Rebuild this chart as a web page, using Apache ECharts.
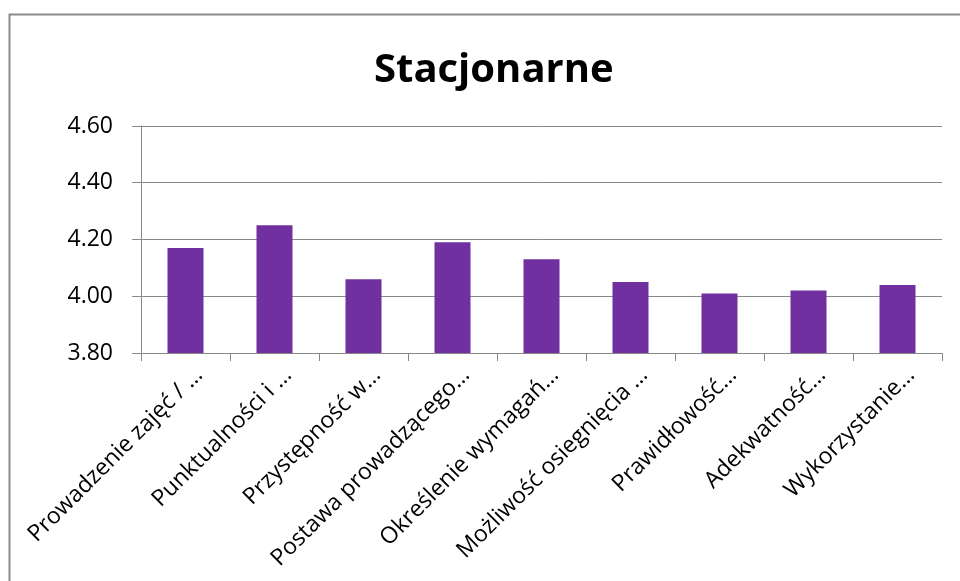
<!DOCTYPE html>
<html>
<head>
<meta charset="utf-8">
<script src="https://cdn.jsdelivr.net/npm/echarts@6/dist/echarts.min.js"></script>
<style>
  html, body { margin: 0; padding: 0; background: #fff; }
  #chart { width: 960px; height: 581px; }
</style>
</head>
<body>
<div id="chart"></div>
<script>
// kategorie (etykiety obcięte tak jak na wykresie)
const categories = [
  'Prowadzenie zajęć / …',
  'Punktualności i …',
  'Przystępność w…',
  'Postawa prowadzącego…',
  'Określenie wymagań…',
  'Możliwość osiegnięcia …',
  'Prawidłowość…',
  'Adekwatność…',
  'Wykorzystanie…'
]
// średnie oceny
const values = [4.17, 4.25, 4.06, 4.19, 4.13, 4.05, 4.01, 4.02, 4.04]

const yMin = 3.8
const yMax = 4.6
const yStep = 0.2

const chart = echarts.init(document.getElementById('chart'))

const option = {
  animation: false,
  backgroundColor: '#fff',
  title: {
    text: 'Stacjonarne',
    left: 369,
    top: 46,
    textStyle: {
      fontFamily: 'Open Sans',
      fontWeight: 'bold',
      fontSize: 40,
      color: '#000'
    }
  },
  // ramka wykresu
  graphic: [{
    type: 'rect',
    shape: { x: 9.5, y: 14.5, width: 1000, height: 1000 },
    style: { fill: 'none', stroke: '#8c8c8c', lineWidth: 2 },
    silent: true
  }],
  grid: {
    left: 141,
    right: 18,
    top: 126,
    bottom: 228
  },
  xAxis: {
    type: 'category',
    data: categories,
    boundaryGap: true,
    axisLine: { lineStyle: { color: '#888', width: 1 } },
    axisTick: { show: true, length: 8, alignWithLabel: false, lineStyle: { color: '#888' } },
    axisLabel: {
      interval: 0,
      rotate: 45,
      margin: 5,
      verticalAlign: 'top',
      lineHeight: 38,
      fontFamily: 'Open Sans',
      fontSize: 23,
      color: '#000'
    }
  },
  yAxis: {
    type: 'value',
    min: yMin,
    max: yMax,
    interval: yStep,
    axisLine: { show: true, lineStyle: { color: '#888', width: 1 } },
    axisTick: { show: true, length: 9, lineStyle: { color: '#888' } },
    splitLine: { lineStyle: { color: '#888', width: 1 } },
    axisLabel: {
      margin: 28,
      fontFamily: 'Open Sans',
      fontSize: 23,
      color: '#000',
      formatter: v => v.toFixed(2)
    }
  },
  series: [{
    type: 'bar',
    data: values,
    barWidth: 36,
    itemStyle: { color: '#7030A0' }
  }]
}

chart.setOption(option)
</script>
</body>
</html>
